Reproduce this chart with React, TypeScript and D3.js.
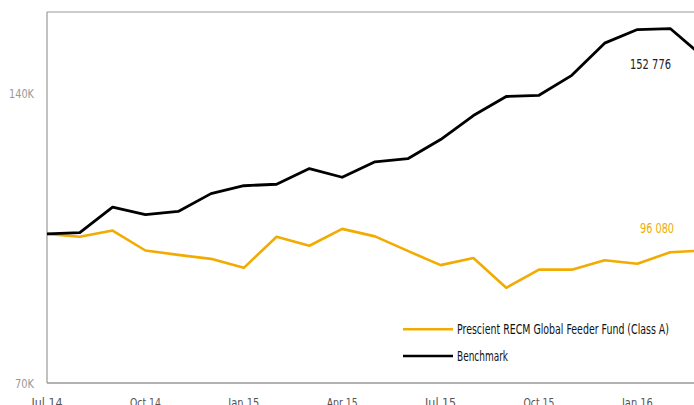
import React from 'react';
import * as d3 from 'd3';

const months = [
  'Jul 14', 'Aug 14', 'Sep 14', 'Oct 14', 'Nov 14', 'Dec 14',
  'Jan 15', 'Feb 15', 'Mar 15', 'Apr 15', 'May 15', 'Jun 15',
  'Jul 15', 'Aug 15', 'Sep 15', 'Oct 15', 'Nov 15', 'Dec 15',
  'Jan 16', 'Feb 16', 'Mar 16',
];

// values in thousands
const fund = [
  100, 99.3, 100.8, 96.1, 95.1, 94.2, 92.2, 99.3, 97.2, 101.2, 99.4,
  96.0, 92.8, 94.4, 87.9, 91.8, 91.8, 93.9, 93.1, 95.7, 96.08,
];
const benchmark = [
  100, 100.3, 106.6, 104.7, 105.5, 110.1, 112.2, 112.6, 116.9, 114.5,
  118.8, 119.7, 125.3, 132.7, 138.9, 139.3, 146.1, 157.8, 163.0, 163.4, 152.776,
];

const xTicks = ['Jul 14', 'Oct 14', 'Jan 15', 'Apr 15', 'Jul 15', 'Oct 15', 'Jan 16'];
const yTicks = [70, 140];

const fundName = 'Prescient RECM Global Feeder Fund (Class A)';
const benchName = 'Benchmark';
const fundLast = '96 080';
const benchLast = '152 776';

const W = 694;
const H = 405;
const FONT = '"Liberation Sans Narrow", "DejaVu Sans Condensed", "Roboto", sans-serif';
const YELLOW = '#f2ab00';

export default function App() {
  const x = d3.scaleLinear().domain([0, months.length - 1]).range([47, 703]);
  const y = d3.scaleLog().domain([70, 170]).range([383, 12]);

  const line = d3
    .line<number>()
    .x((_, i) => x(i))
    .y((d) => y(d));

  return (
    <div style={{ position: 'absolute', left: 0, top: 0 }}>
      <svg width={W} height={H} style={{ display: 'block', fontFamily: FONT }}>
        {/* frame */}
        <line x1={47} x2={W} y1={y(170)} y2={y(170)} stroke="#999" strokeWidth={1.2} />
        <line x1={47} x2={47} y1={y(170)} y2={y(70)} stroke="#999" strokeWidth={1.2} />
        <line x1={47} x2={W} y1={y(70)} y2={y(70)} stroke="#999" strokeWidth={1.5} />

        {yTicks.map((t) => (
          <text key={t} x={34} y={y(t)} dy="0.36em" textAnchor="end" fontSize={13} fill="#999"
            textLength={t >= 100 ? 25 : 19} lengthAdjust="spacingAndGlyphs">
            {`${t}K`}
          </text>
        ))}

        {xTicks.map((t) => (
          <text key={t} x={x(months.indexOf(t))} y={407} textAnchor="middle" fontSize={13} fill="#555"
            textLength={31} lengthAdjust="spacingAndGlyphs">
            {t}
          </text>
        ))}

        <path d={line(fund) ?? ''} fill="none" stroke={YELLOW} strokeWidth={2.6} strokeLinejoin="round" />
        <path d={line(benchmark) ?? ''} fill="none" stroke="#000" strokeWidth={2.8} strokeLinejoin="round" />

        <text x={671} y={69.3} textAnchor="end" fontSize={14} fill="#222"
          textLength={41} lengthAdjust="spacingAndGlyphs">{benchLast}</text>
        <text x={674} y={232.7} textAnchor="end" fontSize={14} fill={YELLOW}
          textLength={34} lengthAdjust="spacingAndGlyphs">{fundLast}</text>

        {/* legend */}
        <line x1={403} x2={453} y1={329.3} y2={329.3} stroke={YELLOW} strokeWidth={2.5} />
        <text x={457} y={334} fontSize={14} fill="#111"
          textLength={212} lengthAdjust="spacingAndGlyphs">{fundName}</text>
        <line x1={403} x2={453} y1={356} y2={356} stroke="#000" strokeWidth={2.5} />
        <text x={457} y={360.7} fontSize={14} fill="#111"
          textLength={51} lengthAdjust="spacingAndGlyphs">{benchName}</text>
      </svg>
    </div>
  );
}
